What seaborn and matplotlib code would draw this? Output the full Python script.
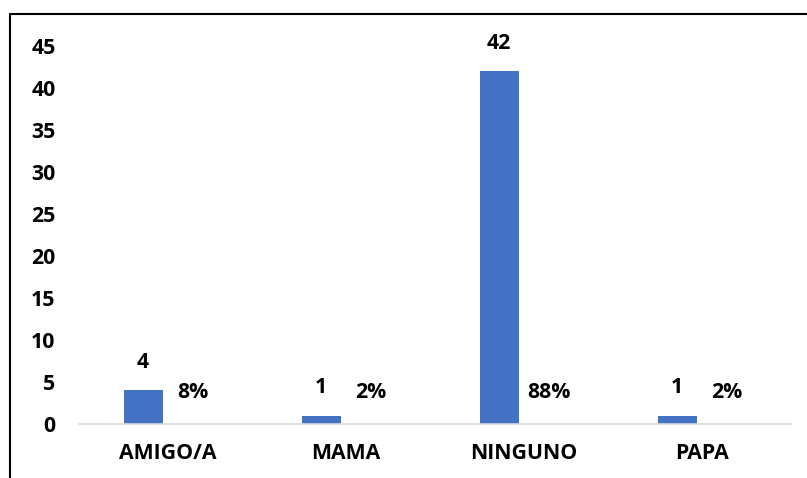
import matplotlib
matplotlib.use("Agg")
import matplotlib.pyplot as plt
from matplotlib.lines import Line2D
import seaborn as sns
import pandas as pd

categorias = ["AMIGO/A", "MAMA", "NINGUNO", "PAPA"]
frecuencia = [4, 1, 42, 1]
porcentaje = [0.08, 0.02, 0.88, 0.02]
etiquetas_pct = ["8%", "2%", "88%", "2%"]
yticks = [0, 5, 10, 15, 20, 25, 30, 35, 40, 45]

azul = "#4472C4"
fs = 15.3

sns.set_theme(style="white")
plt.rcParams["font.family"] = ["Open Sans", "DejaVu Sans"]
plt.rcParams["font.weight"] = "bold"

df = pd.DataFrame({
    "categoria": categorias * 2,
    "serie": ["Frecuencia"] * len(categorias) + ["Porcentaje"] * len(categorias),
    "valor": frecuencia + porcentaje,
})

fig = plt.figure(figsize=(8.07, 4.78), dpi=100)
ax = fig.add_axes([0.0979, 0.113, 0.8823, 0.7908])

sns.barplot(data=df, x="categoria", y="valor", hue="serie",
            palette=[azul, azul], width=0.56, gap=0.22,
            legend=False, ax=ax, saturation=1, linewidth=0)

# the percentage series carries only its labels, without a visible fill
for rect in ax.containers[1]:
    rect.set_alpha(0)

ax.set_xlim(-0.5, len(categorias) - 0.5)
ax.set_ylim(0, 45)
ax.set_yticks(yticks)
ax.set_yticklabels([str(t) for t in yticks])
ax.set_xlabel("")
ax.set_ylabel("")

for s in ["top", "right", "left"]:
    ax.spines[s].set_visible(False)
ax.spines["bottom"].set_color("#d9d9d9")
ax.spines["bottom"].set_linewidth(1.2)
ax.tick_params(axis="y", length=0, pad=17, labelsize=fs, labelcolor="black")
ax.tick_params(axis="x", length=0, pad=14, labelsize=fs, labelcolor="black")
for lbl in ax.get_xticklabels() + ax.get_yticklabels():
    lbl.set_fontweight("bold")

# count labels above the first bar of each group
for rect, v in zip(ax.containers[0], frecuencia):
    cx = rect.get_x() + rect.get_width() / 2
    ax.annotate(str(v), (cx, rect.get_height()), xytext=(0, 20),
                textcoords="offset points", ha="center", va="center",
                fontsize=fs, fontweight="bold", color="black",
                annotation_clip=False)

# percentage labels beside the second bar of each group
for rect, t in zip(ax.containers[1], etiquetas_pct):
    cx = rect.get_x() + rect.get_width() / 2
    ax.text(cx, 3.7, t, ha="center", va="center",
            fontsize=fs, fontweight="bold", color="black")

# outer frame: top and left edges
fig.add_artist(Line2D([9.5 / 807, 1.0], [1 - 13.5 / 478, 1 - 13.5 / 478],
                      transform=fig.transFigure, color="black", lw=1.5))
fig.add_artist(Line2D([9.5 / 807, 9.5 / 807], [0.0, 1 - 13.5 / 478],
                      transform=fig.transFigure, color="black", lw=1.5))

fig.savefig("out.png", dpi=100)
